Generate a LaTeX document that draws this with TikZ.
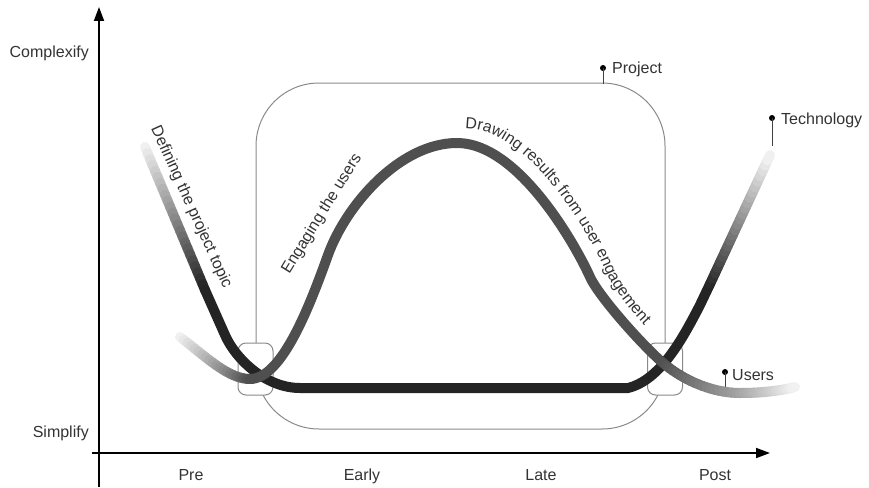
\documentclass[tikz,border=0pt]{standalone}
\usepackage{fontspec}
\setmainfont{Liberation Sans}
\usetikzlibrary{arrows.meta,decorations.text,calc}
\definecolor{darkc}{HTML}{242424}
\definecolor{userc}{HTML}{4F4F4F}
\definecolor{txt}{HTML}{333333}
\definecolor{boxc}{HTML}{8A8A8A}
\definecolor{fadec}{HTML}{F4F4F4}
% #1 path, #2 start colour, #3 end colour, #4 N, #5 N-1
\newcommand\fadecurve[5]{%
  \foreach \k [evaluate=\k as \t using \k/#4] in {0,...,#4}{\path #1 coordinate[pos=\t] (fc\k);}%
  \foreach \k [evaluate=\k as \kk using int(\k+1), evaluate=\k as \pc using 100*(\k+0.5)/#4] in {0,...,#5}{%
    \draw[line width=10pt, line cap=round, color=#3!\pc!#2] (fc\k) -- (fc\kk);}%
}
\begin{document}
\begin{tikzpicture}[x=1pt,y=-1pt, font=\fontsize{16}{19}\selectfont,
  lbl/.style={text=txt, inner sep=0pt},
  pinline/.style={draw=black!75, line width=0.9pt},
  pindot/.style={circle, fill=black, inner sep=0pt, minimum size=6pt},
  axis/.style={line width=1.8pt, -{Triangle[length=14pt,width=10pt]}},
  smallbox/.style={draw=boxc, fill=white, line width=1pt, rounded corners=8pt, minimum width=35pt, minimum height=52pt, inner sep=0pt},
  curvedark/.style={draw=darkc, line width=10pt, line cap=round},
  curveuser/.style={draw=userc, line width=10pt, line cap=round},
  ]
\useasboundingbox (0,0) rectangle (869,487);
% axes
\coordinate (yb) at (99,487);
\coordinate (yt) at (99,7);
\coordinate (xl) at (92,453);
\coordinate (xr) at (770,453);
\draw[axis] (yb) -- (yt);
\draw[axis] (xl) -- (xr);
% axis labels
\node[lbl, anchor=base east] (cpx) at (89,58) {Complexify};
\node[lbl, anchor=base east] (smp) at (89,437) {Simplify};
\node[lbl, anchor=base] (pre) at (191,480) {Pre};
\node[lbl, anchor=base] (early) at (362,480) {Early};
\node[lbl, anchor=base] (late) at (541,480) {Late};
\node[lbl, anchor=base] (post) at (715,480) {Post};
% project box
\node[draw=boxc, line width=1pt, rounded corners=63pt, minimum width=409pt, minimum height=346pt, inner sep=0pt] (pbox) at (460.5,256) {};
\node[smallbox] (lbox) at (255.5,369) {};
\node[smallbox] (rbox) at (665,369) {};
% pins
\node[pindot] (pdot) at (603,68) {};
\coordinate (ptop) at (603,83.5);
\draw[pinline] (pdot.center) -- (ptop);
\node[lbl, anchor=base west] (plbl) at (612,74) {Project};
\node[pindot] (tdot) at (772,118) {};
\coordinate (tbot) at (772,146);
\draw[pinline] (tdot.center) -- (tbot);
\node[lbl, anchor=base west] (tlbl) at (781,124) {Technology};
\node[pindot] (udot) at (725,372) {};
\coordinate (ubot) at (725,393);
\draw[pinline] (udot.center) -- (ubot);
\node[lbl, anchor=base west] (ulbl) at (732,380) {Users};
% technology (dark) curve
\fadecurve{(145,147) -- (205,290)}{fadec}{darkc}{24}{23}
\draw[curvedark] (205,290) -- (225,335) .. controls (235,358) and (265,388) .. (300,388) -- (628,388) .. controls (660,380) and (682,340) .. (700,305) -- (710,284);
\fadecurve{(710,284) -- (770,155)}{darkc}{fadec}{24}{23}
% users curve
\fadecurve{(180,337) .. controls (205,356) and (228,379) .. (250,379)}{fadec}{userc}{20}{19}
\draw[curveuser] (250,379) .. controls (282,379) and (310,305) .. (328,255) .. controls (346,205) and (400,143) .. (457,143) .. controls (520,143) and (578,250) .. (590,277) .. controls (598,295) and (640,343) .. (663,363);
\fadecurve{(663,363) .. controls (683,380) and (712,393) .. (740,393)}{userc}{userc!50!fadec}{20}{19}
\fadecurve{(740,393) .. controls (760,393) and (780,391) .. (795,387)}{userc!50!fadec}{fadec}{16}{15}
% curve labels
\node[lbl, rotate=-65.6] (deflbl) at (191,207) {Defining the project topic};
\node[lbl, rotate=58.3] (englbl) at (322,214) {Engaging the users};
\path[decorate, decoration={text along path, text color=txt, text align=left,
  text={|\fontsize{16}{19}\selectfont|Drawing results from user engagement}}]
  (465,129) .. controls (530,127) and (594,243) .. (605,270) .. controls (614,291) and (642,328) .. (672,350);
\end{tikzpicture}
\end{document}
